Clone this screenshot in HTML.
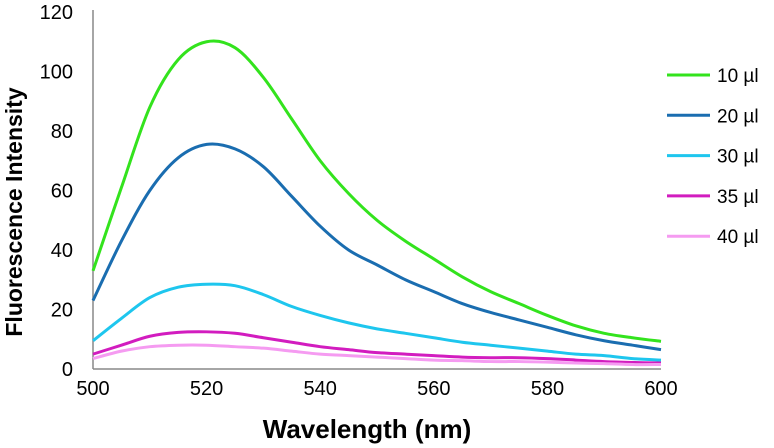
<!DOCTYPE html>
<html><head><meta charset="utf-8"><style>
body{margin:0;background:#fff}
svg{display:block;font-family:"Liberation Sans",Arial,sans-serif}
</style></head><body>
<svg id="chart" width="774" height="448" viewBox="0 0 774 448" xmlns="http://www.w3.org/2000/svg">
<g id="axes"></g><g id="series"></g><g id="legend"></g>
<text transform="translate(22,212) rotate(-90)" text-anchor="middle" font-size="23" font-weight="bold" fill="#000">Fluorescence Intensity</text>
<text x="367" y="438" text-anchor="middle" font-size="26" font-weight="bold" fill="#000">Wavelength (nm)</text>
</svg>
<script>
const wavelengths=[500,505,510,515,520,525,530,535,540,545,550,555,560,565,570,575,580,585,590,595,600];
const s10=[33,61,88,104,110,108,98,84,70,59,50,43,37,31,26,22,18,14.5,12,10.5,9.3];
const s20=[23,43,60,71,75.5,74,68,58,48,40,35,30,26,22,19,16.5,14,11.5,9.5,8,6.5];
const s30=[9.5,17,24,27.5,28.5,28,25,21,18,15.5,13.5,12,10.5,9,8,7,6,5,4.5,3.5,3];
const s35=[5,8,11,12.3,12.5,12,10.5,9,7.5,6.5,5.5,5,4.5,4,3.8,3.8,3.5,3,2.5,2.2,2];
const s40=[3.5,6,7.5,8,8,7.5,7,6,5,4.5,4,3.5,3,2.8,2.5,2.5,2.3,2,1.8,1.5,1.5];
const seriesLabels=["10 µl","20 µl","30 µl","35 µl","40 µl"];
const seriesColors=["#33e31d","#1a6db0","#1ec6ee","#d21cbf","#f59bf1"];
const xTicks=[500,520,540,560,580,600];
const yTicks=[0,20,40,60,80,100,120];
const NS="http://www.w3.org/2000/svg";
const X0=93,X1=661,Y0=369,Y1=12;
const xs=v=>X0+(v-500)/(100)*(X1-X0);
const ys=v=>Y0-v/120*(Y0-Y1);
function mk(t,a,p){const e=document.createElementNS(NS,t);for(const k in a)e.setAttribute(k,a[k]);p.appendChild(e);return e;}
const ax=document.getElementById('axes');
let l=mk('line',{x1:X0,y1:Y1-2,x2:X0,y2:Y0,stroke:'#888','stroke-width':1.5},ax);


l=mk('line',{x1:X0,y1:Y0,x2:X1,y2:Y0,stroke:'#888','stroke-width':1.5},ax);


yTicks.forEach(v=>{const t=mk('text',{x:73,y:ys(v)+7,'text-anchor':'end','font-size':20,fill:'#000'},ax);t.textContent=v;

});
xTicks.forEach(v=>{const t=mk('text',{x:xs(v),y:395,'text-anchor':'middle','font-size':20,fill:'#000'},ax);t.textContent=v;

});
function path(vals){const p=wavelengths.map((w,i)=>[xs(w),ys(vals[i])]);let d=`M${p[0][0]},${p[0][1]}`;
for(let i=0;i<p.length-1;i++){const a=p[Math.max(0,i-1)],b=p[i],c=p[i+1],e=p[Math.min(p.length-1,i+2)];
d+=` C${b[0]+(c[0]-a[0])/6},${b[1]+(c[1]-a[1])/6} ${c[0]-(e[0]-b[0])/6},${c[1]-(e[1]-b[1])/6} ${c[0]},${c[1]}`;}return d;}
const all=[s10,s20,s30,s35,s40];
const sg=document.getElementById('series'),lg=document.getElementById('legend');
all.forEach((vals,i)=>{const p=mk('path',{d:path(vals),fill:'none',stroke:seriesColors[i],'stroke-width':3,'stroke-linejoin':'round'},sg);


const y=75+i*40.3;
const ll=mk('line',{x1:667,y1:y,x2:710,y2:y,stroke:seriesColors[i],'stroke-width':3},lg);


const t=mk('text',{x:717,y:y+7,'font-size':19,fill:'#000'},lg);t.textContent=seriesLabels[i];

});
</script>
</body></html>
